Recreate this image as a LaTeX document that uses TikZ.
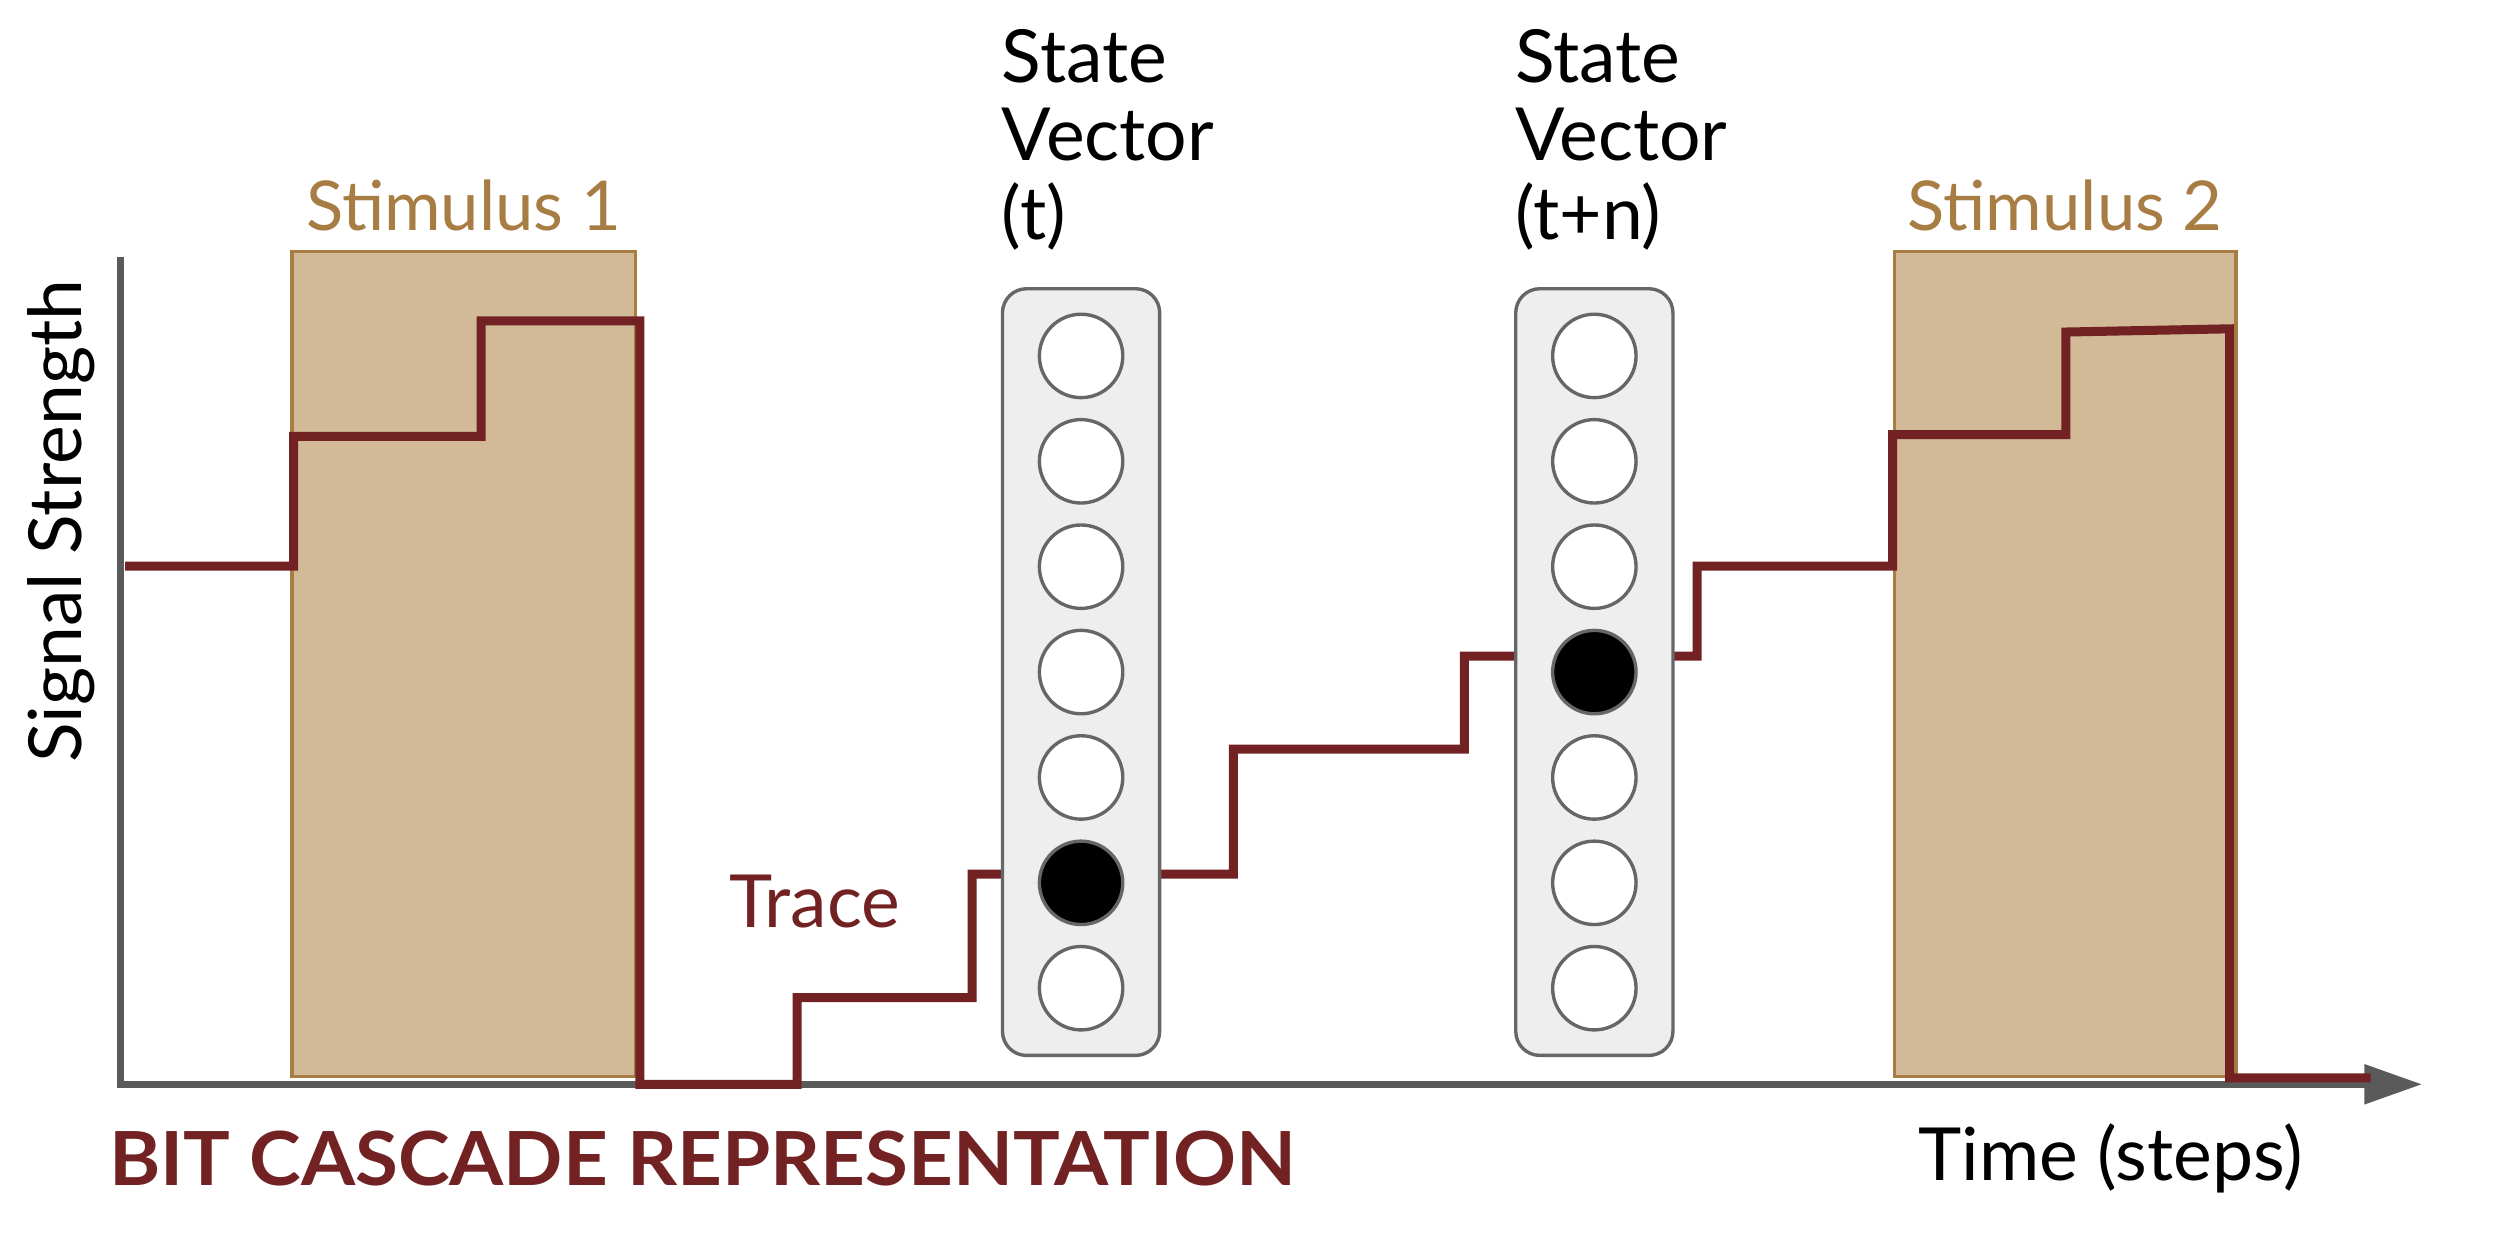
\documentclass[tikz,border=0pt]{standalone}
\usepackage{fontspec}
\setmainfont{Lato}
\usetikzlibrary{arrows.meta,positioning}
\definecolor{tracered}{RGB}{114,34,34}
\definecolor{stimfill}{RGB}{210,185,151}
\definecolor{stimedge}{RGB}{168,125,67}
\definecolor{axisgray}{RGB}{90,90,90}
\definecolor{vecfill}{RGB}{238,238,238}
\definecolor{vecedge}{RGB}{102,102,102}

\begin{document}
\begin{tikzpicture}[
  txt/.style={font=\fontsize{13}{14}\selectfont, inner sep=0},
  stimtxt/.style={font=\fontsize{12.2}{14}\selectfont, inner sep=0, text=stimedge},
  stim/.style={draw=stimedge, fill=stimfill, line width=0.6pt, inner sep=0, anchor=south west},
  vecbox/.style={draw=vecedge, fill=vecfill, rounded corners=0.15cm, line width=0.6pt,
                 minimum width=0.98cm, minimum height=4.78cm, inner sep=0},
  bit/.style={draw=vecedge, circle, minimum size=0.52cm, inner sep=0, line width=0.6pt},
  tracepath/.style={draw=tracered, line width=1.6pt}
]
\useasboundingbox (0,0) rectangle (15.68,7.81);

% stimulus windows
\node[stim, minimum width=2.14cm, minimum height=5.14cm] (stimA) at (1.81,1.09) {};
\node[stim, minimum width=2.13cm, minimum height=5.14cm] (stimB) at (11.80,1.09) {};
\node[stimtxt, above=0.11cm of stimA] (stimAlab) {Stimulus 1};
\node[stimtxt, above=0.11cm of stimB] (stimBlab) {Stimulus 2};

% axes
\coordinate (origin) at (0.75,1.05);
\coordinate (ytop) at (0.75,6.21);
\coordinate (xend) at (15.10,1.05);
\draw[axisgray, line width=1.3pt, -{Triangle[length=0.36cm,width=0.24cm]}] (ytop) -- (origin) -- (xend);

% the trace
\draw[tracepath] (0.78,4.28) -| (1.83,5.09) -| (3.00,5.81) -| (3.99,1.05) -| (4.97,1.59)
  -| (6.06,2.36) -| (7.69,3.14) -| (9.13,3.72) -| (10.58,4.28) -| (11.80,5.10)
  -| (12.88,5.74) -- (13.90,5.76) -- (13.90,1.09) -- (14.78,1.09);

% state vectors
\node[vecbox] (vecA) at (6.74,3.62) {};
\node[vecbox] (vecB) at (9.94,3.62) {};
\foreach \i/\c in {0/white,1/white,2/white,3/white,4/white,5/black,6/white} {
  \node[bit, fill=\c] (a\i) at (6.74,{3.62+(3-\i)*0.657}) {};
}
\foreach \i/\c in {0/white,1/white,2/white,3/black,4/white,5/white,6/white} {
  \node[bit, fill=\c] (b\i) at (9.94,{3.62+(3-\i)*0.657}) {};
}
\node[txt, align=left, anchor=south west] (headA) at ([yshift=0.22cm]vecA.north west) {State\\Vector\\(t)};
\node[txt, align=left, anchor=south west] (headB) at ([yshift=0.22cm]vecB.north west) {State\\Vector\\(t+n)};

% labels
\node[txt, text=tracered] (tracelab) at (5.08,2.19) {Trace};
\node[txt, rotate=90] (ylab) at (0.38,4.56) {Signal Strength};
\node[txt] (xlab) at (13.16,0.59) {Time (steps)};
\node[inner sep=0, text=tracered] (title) at (4.38,0.59)
  {\resizebox{7.40cm}{0.34cm}{\bfseries BIT CASCADE REPRESENTATION}};
\end{tikzpicture}
\end{document}
